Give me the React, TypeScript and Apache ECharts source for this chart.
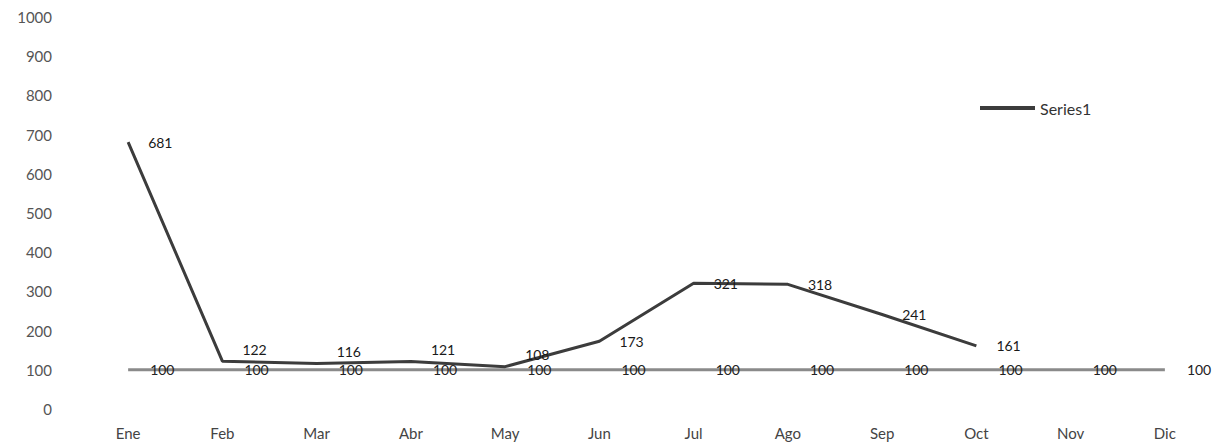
import React, { useEffect, useRef } from "react";
import * as echarts from "echarts";

const months = ["Ene", "Feb", "Mar", "Abr", "May", "Jun", "Jul", "Ago", "Sep", "Oct", "Nov", "Dic"];
const series1 = [681, 122, 116, 121, 108, 173, 321, 318, 241, 161, null, null];
const baseline = [100, 100, 100, 100, 100, 100, 100, 100, 100, 100, 100, 100];
const yTicks = { min: 0, max: 1000, interval: 100 };

const FONT = "Lato, 'Open Sans', sans-serif";

// Series1 labels that sit right on top of the baseline are lifted a little.
const CROWDED = new Set(["Feb", "Mar", "Abr", "May"]);

export default function App() {
  const ref = useRef<HTMLDivElement>(null);

  useEffect(() => {
    document.body.style.margin = "0";
    const chart = echarts.init(ref.current!, null, { renderer: "svg" });

    const series1Data = series1.map((v, i) =>
      CROWDED.has(months[i]) ? { value: v, label: { offset: [0, -12] } } : v
    );

    chart.setOption({
      animation: false,
      backgroundColor: "#ffffff",
      textStyle: { fontFamily: FONT },
      grid: { left: 81, right: 15, top: 17, bottom: 37 },
      legend: {
        data: [{ name: "Series1", icon: "rect", itemStyle: { color: "#3c3c3c", opacity: 1 } }],
        left: 975,
        top: 95,
        itemWidth: 55,
        itemHeight: 4,
        itemGap: 4,
        textStyle: { color: "#333", fontSize: 16, fontFamily: FONT },
      },
      xAxis: {
        type: "category",
        data: months,
        boundaryGap: true,
        axisLine: { show: false },
        axisTick: { show: false },
        axisLabel: { color: "#444", fontSize: 15, margin: 16, fontFamily: FONT },
      },
      yAxis: {
        type: "value",
        min: yTicks.min,
        max: yTicks.max,
        interval: yTicks.interval,
        axisLine: { show: false },
        axisTick: { show: false },
        splitLine: { show: false },
        axisLabel: {
          color: "#555",
          fontSize: 15,
          margin: 29,
          fontFamily: FONT,
          formatter: (v: number) => String(v),
        },
      },
      series: [
        {
          name: "Series2",
          type: "line",
          data: baseline,
          showSymbol: true,
          symbol: "circle",
          symbolSize: 0,
          lineStyle: { color: "#8a8a8a", width: 3 },
          itemStyle: { color: "#8a8a8a" },
          label: {
            show: true,
            position: "right",
            distance: 22,
            color: "#222",
            fontSize: 14,
            fontFamily: FONT,
          },
          z: 2,
        },
        {
          name: "Series1",
          type: "line",
          data: series1Data,
          showSymbol: true,
          symbol: "circle",
          symbolSize: 0,
          lineStyle: { color: "#3c3c3c", width: 3 },
          itemStyle: { color: "#3c3c3c" },
          label: {
            show: true,
            position: "right",
            distance: 20,
            color: "#1a1a1a",
            fontSize: 14,
            fontFamily: FONT,
          },
          z: 3,
        },
      ],
    });
    return () => chart.dispose();
  }, []);

  return <div ref={ref} style={{ width: 1227, height: 446 }} />;
}
